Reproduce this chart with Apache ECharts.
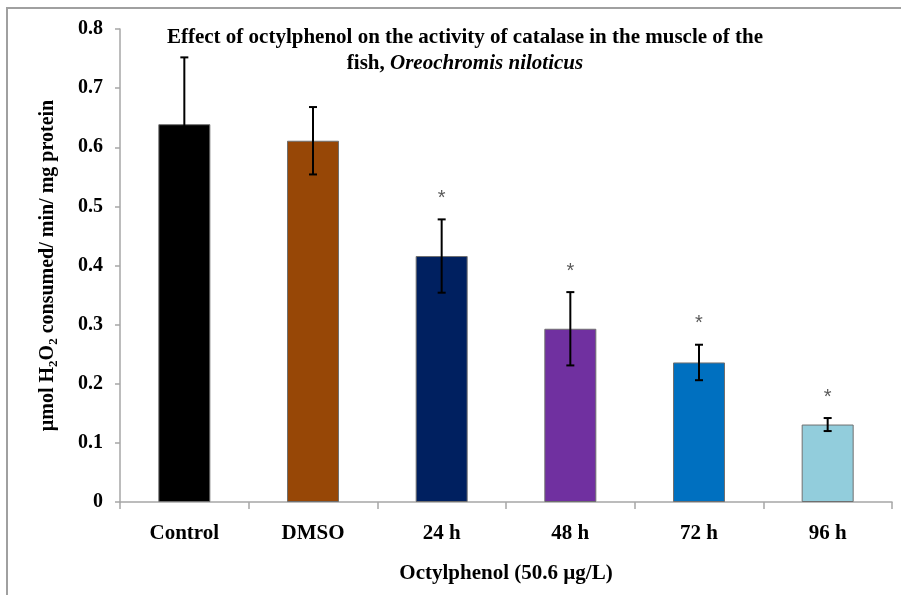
<!DOCTYPE html>
<html>
<head>
<meta charset="utf-8">
<script src="https://cdn.jsdelivr.net/npm/echarts@6/dist/echarts.min.js"></script>
<style>
html,body{margin:0;padding:0;background:#fff;}
#chart{width:901px;height:595px;}
</style>
</head>
<body>
<div id="chart"></div>
<script>
// ---- data ----
const categories = ['Control', 'DMSO', '24 h', '48 h', '72 h', '96 h'];
const means = [0.639, 0.611, 0.416, 0.293, 0.236, 0.131];
const errors = [0.113, 0.057, 0.062, 0.062, 0.030, 0.011];
const significance = ['', '', '*', '*', '*', '*'];
const yTicks = [0, 0.1, 0.2, 0.3, 0.4, 0.5, 0.6, 0.7, 0.8];
const titleLine1 = 'Effect of octylphenol on the activity of catalase in the muscle of the';
const titleLine2a = 'fish, ';
const titleLine2b = 'Oreochromis niloticus';
const xName = 'Octylphenol (50.6 µg/L)';

// ---- styles ----
const barColors = ['#000000', '#974706', '#002060', '#7030A0', '#0070C0', '#92CDDC'];
const serif = '"Liberation Serif", "Times New Roman", serif';
const axisGray = '#a6a6a6';

const chart = echarts.init(document.getElementById('chart'));

const errData = categories.map((c, i) => [i, means[i], errors[i], significance[i]]);

chart.setOption({
  animation: false,
  backgroundColor: '#fff',
  graphic: [{
    type: 'rect',
    shape: {x: 7, y: 8, width: 1000, height: 1000},
    style: {fill: 'none', stroke: '#a0a0a0', lineWidth: 2},
    silent: true
  }],
  title: [{
    text: titleLine1,
    left: 460,
    top: 22,
    textAlign: 'center',
    textStyle: {fontFamily: serif, fontWeight: 'bold', fontSize: 21, color: '#000'}
  }, {
    text: '{b|' + titleLine2a + '}{i|' + titleLine2b + '}',
    left: 460,
    top: 48,
    textAlign: 'center',
    textStyle: {
      rich: {
        b: {fontFamily: serif, fontWeight: 'bold', fontSize: 21, color: '#000'},
        i: {fontFamily: serif, fontWeight: 'bold', fontStyle: 'italic', fontSize: 21, color: '#000'}
      }
    }
  }],
  grid: {left: 120, right: 9, top: 29, bottom: 93, containLabel: false},
  xAxis: {
    type: 'category',
    data: categories,
    name: xName,
    nameLocation: 'middle',
    nameGap: 61,
    nameTextStyle: {fontFamily: serif, fontWeight: 'bold', fontSize: 21, color: '#000'},
    axisLine: {lineStyle: {color: axisGray, width: 1.5}},
    axisTick: {show: true, length: 7, lineStyle: {color: axisGray, width: 1.5}},
    axisLabel: {fontFamily: serif, fontWeight: 'bold', fontSize: 21, color: '#000', margin: 21}
  },
  yAxis: {
    type: 'value',
    min: yTicks[0],
    max: yTicks[yTicks.length - 1],
    interval: 0.1,
    name: '{n|µmol H}{s|2}{n|O}{s|2}{n| consumed/ min/ mg protein}',
    nameLocation: 'middle',
    nameRotate: 90,
    nameGap: 60,
    nameTextStyle: {
      rich: {
        n: {fontFamily: serif, fontWeight: 'bold', fontSize: 20, color: '#000', lineHeight: 25},
        s: {fontFamily: serif, fontWeight: 'bold', fontSize: 13, color: '#000', lineHeight: 13, verticalAlign: 'bottom'}
      }
    },
    axisLine: {show: true, lineStyle: {color: axisGray, width: 1.5}},
    axisTick: {show: true, inside: false, length: 5, lineStyle: {color: axisGray, width: 1.5}},
    splitLine: {show: false},
    axisLabel: {
      fontFamily: serif, fontWeight: 'bold', fontSize: 20, color: '#000', margin: 17,
      formatter: v => (v === 0 ? '0' : String(Math.round(v * 10) / 10))
    }
  },
  series: [{
    type: 'bar',
    data: means.map((v, i) => ({value: v, itemStyle: {color: barColors[i]}})),
    barWidth: 52,
    itemStyle: {borderColor: '#6f6f6f', borderWidth: 1},
    z: 2
  }, {
    type: 'custom',
    data: errData,
    encode: {x: 0, y: 1},
    z: 5,
    renderItem: function (params, api) {
      const i = api.value(0);
      const m = api.value(1);
      const e = api.value(2);
      const sig = significance[params.dataIndex];
      const hi = api.coord([i, m + e]);
      const lo = api.coord([i, m - e]);
      const cap = 4;
      const st = {stroke: '#000', lineWidth: 2};
      const children = [
        {type: 'line', shape: {x1: hi[0], y1: hi[1], x2: lo[0], y2: lo[1]}, style: st},
        {type: 'line', shape: {x1: hi[0] - cap, y1: hi[1], x2: hi[0] + cap, y2: hi[1]}, style: st},
        {type: 'line', shape: {x1: lo[0] - cap, y1: lo[1], x2: lo[0] + cap, y2: lo[1]}, style: st}
      ];
      if (sig) {
        children.push({
          type: 'text',
          style: {
            x: hi[0], y: hi[1] - 21, text: sig,
            align: 'center', verticalAlign: 'middle',
            fill: '#595959', fontSize: 20, fontFamily: '"Liberation Sans", Arial, sans-serif'
          }
        });
      }
      return {type: 'group', children: children};
    }
  }]
});
</script>
</body>
</html>
